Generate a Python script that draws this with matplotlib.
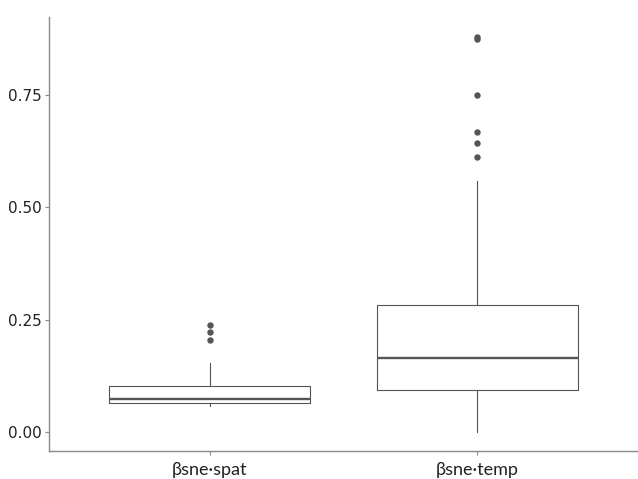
import matplotlib.pyplot as plt

# box statistics
groups = ["\u03b2sne\u00b7spat", "\u03b2sne\u00b7temp"]
q1 = [0.065, 0.093]
med = [0.073, 0.165]
q3 = [0.102, 0.283]
whislo = [0.058, 0.0]
whishi = [0.154, 0.559]
fliers = [[0.205, 0.223, 0.238],
          [0.612, 0.643, 0.668, 0.750, 0.876, 0.879]]
yticks = [0.0, 0.25, 0.5, 0.75]
ytick_labels = ["0.00", "0.25", "0.50", "0.75"]

stats = []
for i in range(len(groups)):
    stats.append(dict(label=groups[i], q1=q1[i], med=med[i], q3=q3[i],
                      whislo=whislo[i], whishi=whishi[i], fliers=fliers[i]))

fig = plt.figure(figsize=(6.38, 4.79), dpi=100)
ax = fig.add_axes([0.0768, 0.0585, 0.9232, 0.906])

line_col = "#555555"
ax.bxp(stats, positions=[1, 2], widths=0.75, showcaps=False,
       boxprops=dict(color=line_col, linewidth=0.8),
       whiskerprops=dict(color=line_col, linewidth=0.8),
       medianprops=dict(color=line_col, linewidth=1.7),
       flierprops=dict(marker="o", markersize=3.6, markerfacecolor=line_col,
                       markeredgecolor=line_col))

ax.set_xlim(0.4, 2.6)
ax.set_ylim(-0.042, 0.924)
ax.set_yticks(yticks)
ax.set_yticklabels(ytick_labels, fontsize=11, color="#222222")
ax.set_xticks([1, 2])
ax.set_xticklabels(groups, fontsize=13, color="#222222", family=["Lato", "DejaVu Sans"])

for s in ["top", "right"]:
    ax.spines[s].set_visible(False)
for s in ["left", "bottom"]:
    ax.spines[s].set_color("#888888")
    ax.spines[s].set_linewidth(1.0)
ax.tick_params(length=3, color="#888888", width=0.8, pad=2)
ax.tick_params(axis="x", pad=5)

fig.savefig("out.png", dpi=100)
